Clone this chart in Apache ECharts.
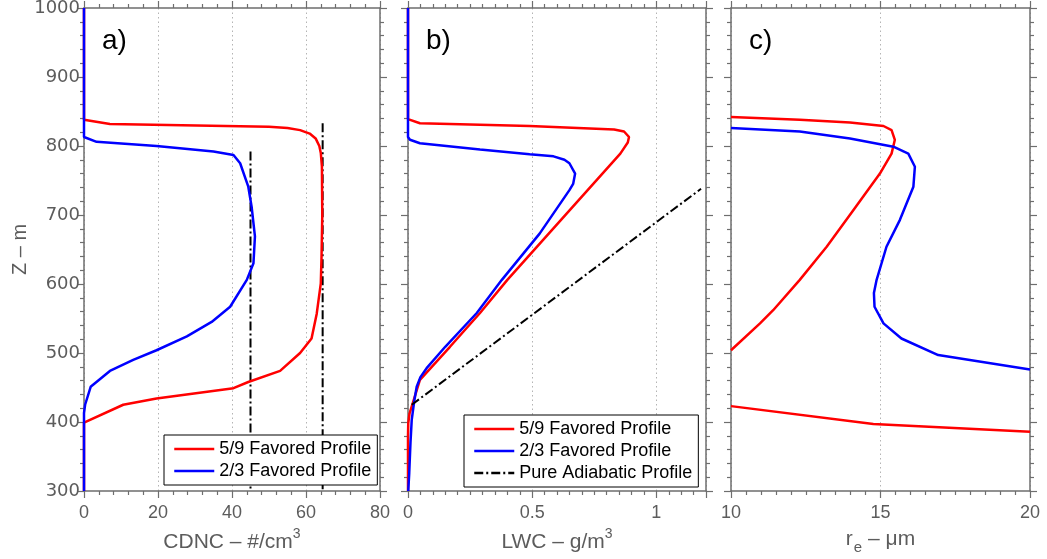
<!DOCTYPE html>
<html>
<head>
<meta charset="utf-8">
<title>Cloud profiles</title>
<script src="https://cdn.jsdelivr.net/npm/echarts@6/dist/echarts.min.js"></script>
<style>
  html, body { margin: 0; padding: 0; background: #fff; }
  #chart { width: 1047px; height: 559px; }
</style>
</head>
<body>
<div id="chart"></div>
<script>
// legend names
const nameRed = '5/9 Favored Profile';
const nameBlue = '2/3 Favored Profile';
const nameAdiabatic = 'Pure Adiabatic Profile';

// a) CDNC (#/cm3) vs height (m), pairs [value, z]
const cdncRed = [[0, 1000], [0, 838], [7, 832], [50, 828], [55, 826], [58.4, 823], [61, 818], [62.6, 811],
  [63.6, 800], [64, 790], [64.3, 770], [64.4, 700], [64.2, 640], [64, 601], [62.9, 557], [61.5, 521],
  [58.4, 500], [53, 474], [44.4, 458], [40.4, 449], [19.6, 434], [10.6, 425], [0, 399], [0, 300]];
const cdncBlue = [[0, 1000], [0, 813], [3.4, 806], [19.6, 800], [35, 792], [40.4, 787], [42.2, 775],
  [44.4, 741], [45.3, 712], [46.2, 669], [45.8, 630], [44, 606], [39.5, 567], [34.5, 545], [27.8, 524],
  [19.6, 504], [13.3, 490], [7, 474], [1.8, 451], [0.3, 425], [0, 413], [0, 300]];
const cdncAdiabaticLow = [[45, 792], [45, 300]];
const cdncAdiabaticHigh = [[64.5, 833], [64.5, 300]];

// b) LWC (g/m3) vs height (m)
const lwcRed = [[0, 1000], [0, 839], [0.048, 833], [0.49, 829], [0.83, 824], [0.87, 821], [0.89, 813],
  [0.885, 805], [0.855, 789], [0.40, 606], [0.29, 558], [0.169, 509], [0.048, 461], [0.03, 440],
  [0.018, 426], [0.006, 412], [0.001, 398], [0, 380], [0, 300]];
const lwcBlue = [[0, 1000], [0, 813], [0.008, 809], [0.048, 804], [0.29, 795], [0.49, 788], [0.586, 785],
  [0.63, 780], [0.65, 775], [0.673, 760], [0.665, 745], [0.65, 736], [0.53, 673], [0.378, 606],
  [0.277, 558], [0.15, 509], [0.075, 478], [0.05, 465], [0.035, 451], [0.025, 430], [0.015, 403],
  [0.01, 370], [0.005, 326], [0.001, 300]];
const lwcAdiabatic = [[0.015, 425], [1.18, 738]];

// c) effective radius (um) vs height (m)
const reRedUpper = [[10, 842], [12.3, 838], [13.98, 834], [15.1, 829], [15.37, 823], [15.48, 809],
  [15.37, 789], [14.98, 760], [14.09, 707], [13.2, 654], [12.3, 606], [11.41, 562], [10.97, 543], [10, 504]];
const reRedLower = [[10, 423], [14.76, 397], [20, 386]];
const reBlue = [[10, 826], [12.3, 821], [13.98, 811], [15.43, 799], [15.93, 789], [16.15, 770],
  [16.1, 741], [15.65, 693], [15.2, 654], [14.87, 606], [14.78, 587], [14.8, 567], [15.1, 543],
  [15.7, 521], [16.93, 497], [20, 476]];

// axis ranges
const zRange = { min: 300, max: 1000, interval: 100, minor: 5 };
const xRanges = [
  { min: 0, max: 80, interval: 20, minor: 5 },
  { min: 0, max: 1.2, interval: 0.5, minor: 10 },
  { min: 10, max: 20, interval: 5, minor: 10 }
];
const xNames = ['{n|CDNC – #/cm}{s|3}', '{n|LWC – g/m}{s|3}', '{n|r}{b|e}{n| – μm}'];
const panelLabels = ['a)', 'b)', 'c)'];

const FONT = 'Liberation Sans, Arial, Helvetica, sans-serif';
const AXIS_GREY = '#6e6e6e';
const TEXT_GREY = '#5c5c5c';

const grids = [
  { left: 84, width: 296, top: 8, height: 483, outerBoundsMode: 'none' },
  { left: 408, width: 298, top: 8, height: 483, outerBoundsMode: 'none' },
  { left: 731, width: 299, top: 8, height: 483, outerBoundsMode: 'none' }
];

function baseAxis(gridIndex, position, range) {
  return {
    type: 'value', gridIndex: gridIndex, position: position,
    min: range.min, max: range.max, interval: range.interval,
    axisLine: { show: true, onZero: false, lineStyle: { color: AXIS_GREY, width: 1.5 } },
    axisTick: { show: true, inside: false, length: 7, lineStyle: { color: AXIS_GREY, width: 1.2 } },
    minorTick: { show: true, splitNumber: range.minor, length: 4, lineStyle: { color: AXIS_GREY, width: 1.2 } },
    axisLabel: { show: false },
    splitLine: { show: false },
    minorSplitLine: { show: false }
  };
}

const xAxes = [];
const yAxes = [];
for (let i = 0; i < 3; i++) {
  const bottom = baseAxis(i, 'bottom', xRanges[i]);
  bottom.axisLabel = {
    show: true, fontFamily: FONT, fontSize: 18, color: TEXT_GREY, margin: 13,
    showMinLabel: true, showMaxLabel: i !== 1,
    formatter: function (v) { return String(v); }
  };
  bottom.splitLine = { show: true, lineStyle: { color: '#b4b4b4', width: 1, type: [1.5, 3] } };
  bottom.name = xNames[i];
  bottom.nameLocation = 'middle';
  bottom.nameGap = i === 2 ? 25 : 34;
  bottom.nameTextStyle = {
    color: TEXT_GREY, fontFamily: FONT,
    rich: {
      n: { fontSize: 21, lineHeight: 26, color: TEXT_GREY, fontFamily: FONT, verticalAlign: i === 2 ? 'top' : 'bottom' },
      s: { fontSize: 14, lineHeight: 14, color: TEXT_GREY, fontFamily: FONT, verticalAlign: 'top' },
      b: { fontSize: 15, lineHeight: 15, color: TEXT_GREY, fontFamily: FONT, verticalAlign: 'bottom', padding: [13, 0, 0, 1] }
    }
  };
  xAxes.push(bottom);
  xAxes.push(baseAxis(i, 'top', xRanges[i]));

  const left = baseAxis(i, 'left', zRange);
  if (i === 0) {
    left.axisLabel = {
      show: true, fontFamily: 'DejaVu Sans', fontSize: 18, color: TEXT_GREY, margin: 4,
      formatter: function (v) { return String(v); }
    };
    left.name = 'Z – m';
    left.nameLocation = 'middle';
    left.nameGap = 50;
    left.nameRotate = 90;
    left.nameTextStyle = { fontFamily: FONT, fontSize: 20, color: TEXT_GREY };
  }
  yAxes.push(left);
  yAxes.push(baseAxis(i, 'right', zRange));
}

function profile(name, data, color, panel, dashed) {
  return {
    name: name, type: 'line', data: data,
    xAxisIndex: panel * 2, yAxisIndex: panel * 2,
    symbol: 'none', smooth: false,
    lineStyle: dashed
      ? { color: '#000', width: 2, type: [9, 3, 2, 3] }
      : { color: color, width: 2.5 },
    itemStyle: { color: color },
    emphasis: { disabled: true },
    silent: true
  };
}

const series = [
  profile('CDNC adiabatic low', cdncAdiabaticLow, '#000', 0, true),
  profile('CDNC adiabatic high', cdncAdiabaticHigh, '#000', 0, true),
  profile(nameRed, cdncRed, '#ff0000', 0),
  profile(nameBlue, cdncBlue, '#0000ff', 0),
  profile(nameRed, lwcRed, '#ff0000', 1),
  profile(nameBlue, lwcBlue, '#0000ff', 1),
  profile(nameAdiabatic, lwcAdiabatic, '#000', 1, true),
  profile(nameRed, reRedUpper, '#ff0000', 2),
  profile(nameRed, reRedLower, '#ff0000', 2),
  profile(nameBlue, reBlue, '#0000ff', 2)
];

function legendBox(left, top, names) {
  return {
    orient: 'vertical', left: left, top: top,
    padding: [3, 6, 3, 9], itemGap: 0, itemWidth: 40, itemHeight: 14,
    backgroundColor: '#fff', borderColor: '#000', borderWidth: 1, borderRadius: 0,
    selectedMode: false,
    itemStyle: { opacity: 0 },
    lineStyle: { width: 2.5 },
    textStyle: { fontFamily: FONT, fontSize: 18, lineHeight: 22, color: '#000' },
    data: names
  };
}

const chart = echarts.init(document.getElementById('chart'), null, { renderer: 'canvas' });
chart.setOption({
  animation: false,
  backgroundColor: '#fff',
  grid: grids,
  xAxis: xAxes,
  yAxis: yAxes,
  legend: [
    legendBox(164, 435, [nameRed, nameBlue]),
    legendBox(464, 415, [nameRed, nameBlue, nameAdiabatic])
  ],
  graphic: panelLabels.map(function (t, i) {
    return {
      type: 'text', left: grids[i].left + 18, top: 27, z: 10,
      style: { text: t, fontFamily: FONT, fontSize: 28, fill: '#000' }
    };
  }),
  series: series
});
</script>
</body>
</html>
